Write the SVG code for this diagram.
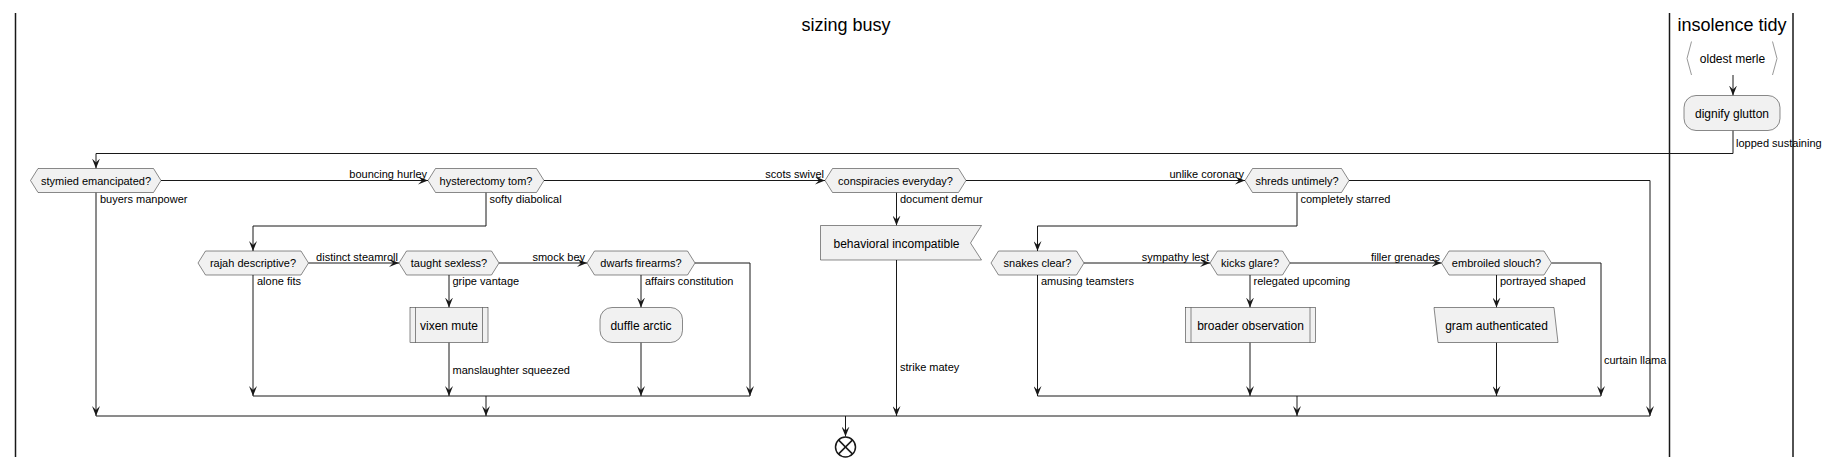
<svg xmlns="http://www.w3.org/2000/svg" width="1831" height="467" viewBox="0 0 1831 467">
<style>
.ln{fill:none;stroke:#181818;stroke-width:1}
.nd{fill:#F1F1F1;stroke:#181818;stroke-width:0.5}
.lane{stroke:#181818;stroke-width:1.5}
.t11{font-family:"Liberation Sans",Arial,sans-serif;font-size:11px;fill:#000}
.t12{font-family:"Liberation Sans",Arial,sans-serif;font-size:12px;fill:#000}
.mid{text-anchor:middle}
.end{text-anchor:end}
.title{font-family:"Liberation Sans",Arial,sans-serif;font-size:18px;fill:#000;text-anchor:middle}
</style>
<defs>
<marker id="ah" markerUnits="userSpaceOnUse" markerWidth="10" markerHeight="8" refX="10" refY="4" orient="auto">
<path d="M0,0 L10,4 L0,8 L4,4 Z" fill="#181818"/>
</marker>
</defs>
<rect width="1831" height="467" fill="#FFFFFF"/>
<g id="lanes">
<line class="lane" x1="15.5" y1="13" x2="15.5" y2="457"/>
<line class="lane" x1="1669.5" y1="13" x2="1669.5" y2="457"/>
<line class="lane" x1="1793" y1="13" x2="1793" y2="457"/>
<text class="title" x="846" y="31">sizing busy</text>
<text class="title" x="1732" y="31">insolence tidy</text>
</g>
<g id="connectors">
<path class="ln" d="M1733,130.5 V153.5 H96 V168.5" marker-end="url(#ah)"/>
<path class="ln" d="M1733,75 V95.5" marker-end="url(#ah)"/>
<path class="ln" d="M161,180.5 H428" marker-end="url(#ah)"/>
<path class="ln" d="M544,180.5 H825" marker-end="url(#ah)"/>
<path class="ln" d="M966,180.5 H1245" marker-end="url(#ah)"/>
<path class="ln" d="M1349,180.5 H1650 V416" marker-end="url(#ah)"/>
<path class="ln" d="M96,192.5 V416" marker-end="url(#ah)"/>
<path class="ln" d="M486,192.5 V226 H253 V251" marker-end="url(#ah)"/>
<path class="ln" d="M308.5,263 H399" marker-end="url(#ah)"/>
<path class="ln" d="M499,263 H587" marker-end="url(#ah)"/>
<path class="ln" d="M695,263 H750 V396" marker-end="url(#ah)"/>
<path class="ln" d="M253,275 V396" marker-end="url(#ah)"/>
<path class="ln" d="M449,275 V307.5" marker-end="url(#ah)"/>
<path class="ln" d="M449,342.5 V396" marker-end="url(#ah)"/>
<path class="ln" d="M641,275 V307.5" marker-end="url(#ah)"/>
<path class="ln" d="M641,342.5 V396" marker-end="url(#ah)"/>
<path class="ln" d="M253,396 H750"/>
<path class="ln" d="M486,396 V416" marker-end="url(#ah)"/>
<path class="ln" d="M896.5,192.5 V225.5" marker-end="url(#ah)"/>
<path class="ln" d="M896.5,260 V416" marker-end="url(#ah)"/>
<path class="ln" d="M1297,192.5 V226 H1037.5 V251" marker-end="url(#ah)"/>
<path class="ln" d="M1084,263 H1210" marker-end="url(#ah)"/>
<path class="ln" d="M1290,263 H1441.5" marker-end="url(#ah)"/>
<path class="ln" d="M1551.5,263 H1601 V396" marker-end="url(#ah)"/>
<path class="ln" d="M1037.5,275 V396" marker-end="url(#ah)"/>
<path class="ln" d="M1250,275 V307.5" marker-end="url(#ah)"/>
<path class="ln" d="M1250,342.5 V396" marker-end="url(#ah)"/>
<path class="ln" d="M1496.5,275 V307.5" marker-end="url(#ah)"/>
<path class="ln" d="M1496.5,342.5 V396" marker-end="url(#ah)"/>
<path class="ln" d="M1037.5,396 H1601"/>
<path class="ln" d="M1297,396 V416" marker-end="url(#ah)"/>
<path class="ln" d="M96,416 H1650"/>
<path class="ln" d="M845.5,416 V436.5" marker-end="url(#ah)"/>
<text class="t11" x="1736" y="146.5">lopped sustaining</text>
<text class="t11 end" x="427" y="178">bouncing hurley</text>
<text class="t11 end" x="824" y="178">scots swivel</text>
<text class="t11 end" x="1244" y="178">unlike coronary</text>
<text class="t11" x="100" y="203">buyers manpower</text>
<text class="t11" x="489.5" y="203">softy diabolical</text>
<text class="t11" x="900" y="203">document demur</text>
<text class="t11" x="1300.5" y="203">completely starred</text>
<text class="t11 end" x="398" y="260.5">distinct steamroll</text>
<text class="t11 end" x="585" y="260.5">smock bey</text>
<text class="t11 end" x="1209" y="260.5">sympathy lest</text>
<text class="t11 end" x="1440" y="260.5">filler grenades</text>
<text class="t11" x="257" y="285">alone fits</text>
<text class="t11" x="452.5" y="285">gripe vantage</text>
<text class="t11" x="645" y="285">affairs constitution</text>
<text class="t11" x="1041" y="285">amusing teamsters</text>
<text class="t11" x="1253.5" y="285">relegated upcoming</text>
<text class="t11" x="1500" y="285">portrayed shaped</text>
<text class="t11" x="452.5" y="374">manslaughter squeezed</text>
<text class="t11" x="900" y="371">strike matey</text>
<text class="t11" x="1604" y="364">curtain llama</text>
</g>
<g id="oldest_merle">
<polyline points="1691.5,41.5 1687,58.5 1691.5,75" fill="none" stroke="#999" stroke-width="1"/>
<polyline points="1772.5,41.5 1777,58.5 1772.5,75" fill="none" stroke="#999" stroke-width="1"/>
<text class="t12 mid" x="1732.5" y="63">oldest merle</text>
</g>
<g id="dignify_glutton">
<rect class="nd" x="1684" y="95.5" width="96" height="35" rx="12" ry="12"/>
<text class="t12 mid" x="1732" y="117.5">dignify glutton</text>
</g>
<g id="stymied_emancipated">
<polygon class="nd" points="30.5,180.5 38,168.5 153.5,168.5 161,180.5 153.5,192.5 38,192.5"/>
<text class="t11 mid" x="96" y="184.5">stymied emancipated?</text>
</g>
<g id="hysterectomy_tom">
<polygon class="nd" points="428,180.5 435.5,168.5 536.5,168.5 544,180.5 536.5,192.5 435.5,192.5"/>
<text class="t11 mid" x="486" y="184.5">hysterectomy tom?</text>
</g>
<g id="conspiracies_everyday">
<polygon class="nd" points="825,180.5 832.5,168.5 958.5,168.5 966,180.5 958.5,192.5 832.5,192.5"/>
<text class="t11 mid" x="895.5" y="184.5">conspiracies everyday?</text>
</g>
<g id="shreds_untimely">
<polygon class="nd" points="1245,180.5 1252.5,168.5 1341.5,168.5 1349,180.5 1341.5,192.5 1252.5,192.5"/>
<text class="t11 mid" x="1297" y="184.5">shreds untimely?</text>
</g>
<g id="rajah_descriptive">
<polygon class="nd" points="198,263 205.5,251 301,251 308.5,263 301,275 205.5,275"/>
<text class="t11 mid" x="253" y="267">rajah descriptive?</text>
</g>
<g id="taught_sexless">
<polygon class="nd" points="399,263 406.5,251 491.5,251 499,263 491.5,275 406.5,275"/>
<text class="t11 mid" x="449" y="267">taught sexless?</text>
</g>
<g id="dwarfs_firearms">
<polygon class="nd" points="587,263 594.5,251 687.5,251 695,263 687.5,275 594.5,275"/>
<text class="t11 mid" x="641" y="267">dwarfs firearms?</text>
</g>
<g id="snakes_clear">
<polygon class="nd" points="991,263 998.5,251 1076.5,251 1084,263 1076.5,275 998.5,275"/>
<text class="t11 mid" x="1037.5" y="267">snakes clear?</text>
</g>
<g id="kicks_glare">
<polygon class="nd" points="1210,263 1217.5,251 1282.5,251 1290,263 1282.5,275 1217.5,275"/>
<text class="t11 mid" x="1250" y="267">kicks glare?</text>
</g>
<g id="embroiled_slouch">
<polygon class="nd" points="1441.5,263 1449,251 1544,251 1551.5,263 1544,275 1449,275"/>
<text class="t11 mid" x="1496.5" y="267">embroiled slouch?</text>
</g>
<g id="vixen_mute">
<rect class="nd" x="410" y="307.5" width="78" height="35"/>
<line class="nd" x1="415.5" y1="307.5" x2="415.5" y2="342.5"/>
<line class="nd" x1="482.5" y1="307.5" x2="482.5" y2="342.5"/>
<text class="t12 mid" x="449" y="329.5">vixen mute</text>
</g>
<g id="duffle_arctic">
<rect class="nd" x="600" y="307.5" width="82.5" height="35" rx="12" ry="12"/>
<text class="t12 mid" x="641" y="329.5">duffle arctic</text>
</g>
<g id="behavioral_incompatible">
<polygon class="nd" points="820.5,225.5 981.5,225.5 970.5,243 981.5,260 820.5,260"/>
<text class="t12 mid" x="896.5" y="247.5">behavioral incompatible</text>
</g>
<g id="broader_observation">
<rect class="nd" x="1185.5" y="307.5" width="130" height="35"/>
<line class="nd" x1="1191" y1="307.5" x2="1191" y2="342.5"/>
<line class="nd" x1="1310" y1="307.5" x2="1310" y2="342.5"/>
<text class="t12 mid" x="1250.5" y="329.5">broader observation</text>
</g>
<g id="gram_authenticated">
<polygon class="nd" points="1434,307.5 1554,307.5 1558,342.5 1438,342.5"/>
<text class="t12 mid" x="1496.5" y="329.5">gram authenticated</text>
</g>
<g id="stop">
<circle cx="845.5" cy="447" r="10" fill="none" stroke="#181818" stroke-width="1.5"/>
<line x1="838.4" y1="439.9" x2="852.6" y2="454.1" stroke="#181818" stroke-width="1.5"/>
<line x1="852.6" y1="439.9" x2="838.4" y2="454.1" stroke="#181818" stroke-width="1.5"/>
</g>
</svg>
